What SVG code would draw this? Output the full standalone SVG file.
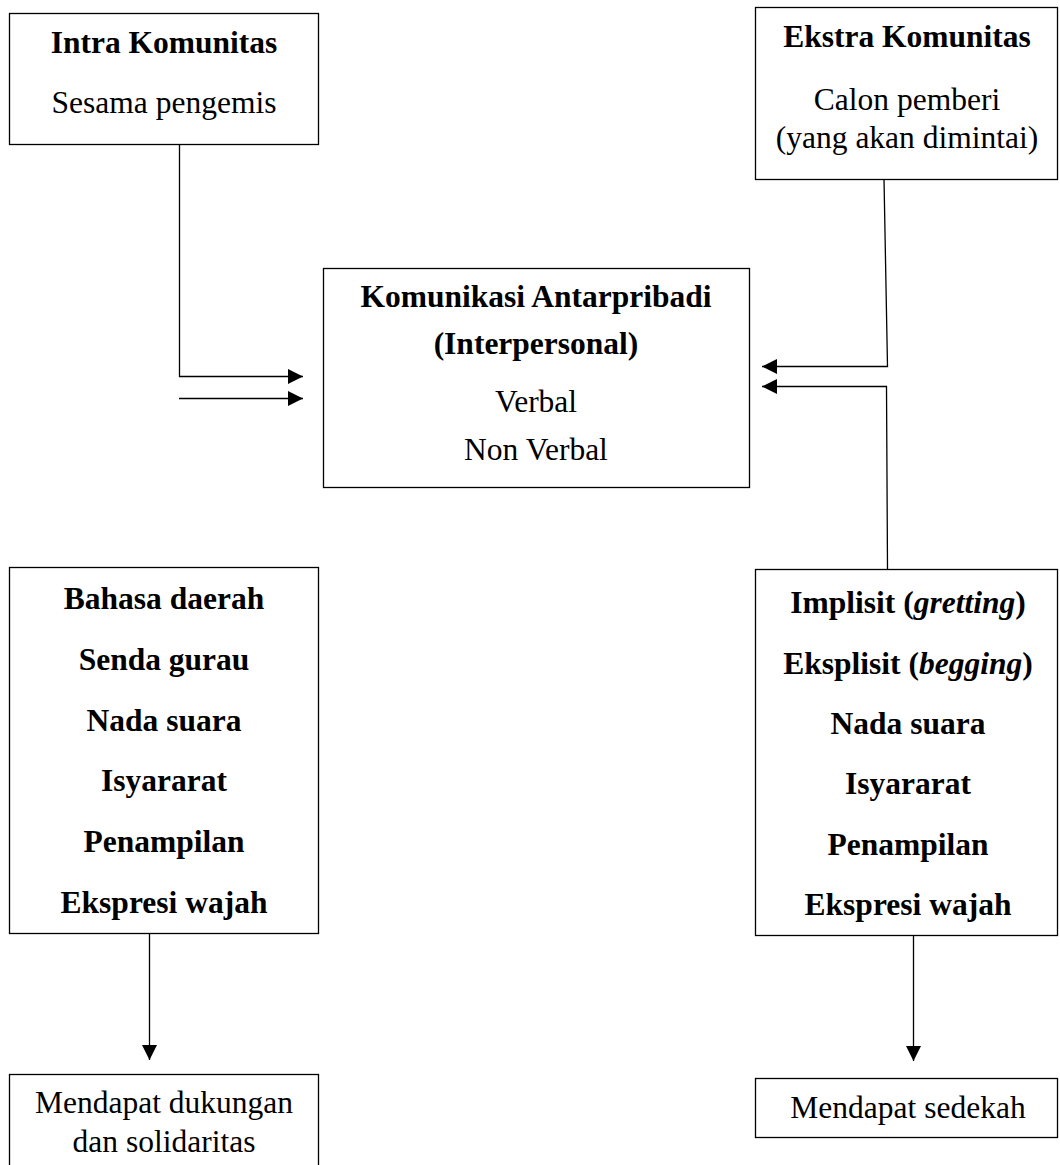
<svg xmlns="http://www.w3.org/2000/svg" width="1060" height="1165" viewBox="0 0 1060 1165">
<style>
  .box{fill:#fff;stroke:#000;stroke-width:1.3}
  .t{font-family:"Liberation Serif","Times New Roman",serif;font-size:31.5px;fill:#000;text-anchor:middle}
  .b{font-weight:bold}
  .i{font-style:italic}
  .ln{fill:none;stroke:#000;stroke-width:1.3}
</style>
<defs>
  <marker id="ah" markerUnits="userSpaceOnUse" markerWidth="16" markerHeight="16" refX="15" refY="7.5" orient="auto">
    <path d="M0,0 L15,7.5 L0,15 Z" fill="#000"/>
  </marker>
</defs>
<rect width="1060" height="1165" fill="#fff"/>

<g id="intra">
  <rect class="box" x="9.5" y="13.5" width="309" height="131"/>
  <text class="t b" x="164" y="53">Intra Komunitas</text>
  <text class="t" x="164" y="113">Sesama pengemis</text>
</g>

<g id="ekstra">
  <rect class="box" x="755.5" y="7.5" width="302" height="172"/>
  <text class="t b" x="907" y="47">Ekstra Komunitas</text>
  <text class="t" x="907" y="110">Calon pemberi</text>
  <text class="t" x="907" y="148">(yang akan dimintai)</text>
</g>

<g id="center">
  <rect class="box" x="323.5" y="268.5" width="426" height="219"/>
  <text class="t b" x="536" y="307">Komunikasi Antarpribadi</text>
  <text class="t b" x="536" y="354">(Interpersonal)</text>
  <text class="t" x="536" y="412">Verbal</text>
  <text class="t" x="536" y="460">Non Verbal</text>
</g>

<g id="left-list">
  <rect class="box" x="9.5" y="567.5" width="309" height="366"/>
  <text class="t b" x="164" y="609">Bahasa daerah</text>
  <text class="t b" x="164" y="670">Senda gurau</text>
  <text class="t b" x="164" y="731">Nada suara</text>
  <text class="t b" x="164" y="791">Isyararat</text>
  <text class="t b" x="164" y="852">Penampilan</text>
  <text class="t b" x="164" y="913">Ekspresi wajah</text>
</g>

<g id="right-list">
  <rect class="box" x="755.5" y="569.5" width="302" height="366"/>
  <text class="t b" x="908" y="613">Implisit (<tspan class="i">gretting</tspan>)</text>
  <text class="t b" x="908" y="674">Eksplisit (<tspan class="i">begging</tspan>)</text>
  <text class="t b" x="908" y="734">Nada suara</text>
  <text class="t b" x="908" y="794">Isyararat</text>
  <text class="t b" x="908" y="855">Penampilan</text>
  <text class="t b" x="908" y="915">Ekspresi wajah</text>
</g>

<g id="left-result">
  <rect class="box" x="9.5" y="1074.5" width="309" height="120"/>
  <text class="t" x="164" y="1113">Mendapat dukungan</text>
  <text class="t" x="164" y="1152">dan solidaritas</text>
</g>

<g id="right-result">
  <rect class="box" x="755.5" y="1078.5" width="302" height="59"/>
  <text class="t" x="908" y="1118">Mendapat sedekah</text>
</g>

<g id="connectors">
  <polyline class="ln" points="179.5,144 179.5,376.5 303,376.5" marker-end="url(#ah)"/>
  <line class="ln" x1="179" y1="398.5" x2="303" y2="398.5" marker-end="url(#ah)"/>
  <polyline class="ln" points="884,179 887.5,366.5 762,366.5" marker-end="url(#ah)"/>
  <polyline class="ln" points="887.5,569 886.5,386.5 762,386.5" marker-end="url(#ah)"/>
  <line class="ln" x1="149.5" y1="934" x2="149.5" y2="1060" marker-end="url(#ah)"/>
  <line class="ln" x1="913.5" y1="936" x2="913.5" y2="1061" marker-end="url(#ah)"/>
</g>
</svg>
